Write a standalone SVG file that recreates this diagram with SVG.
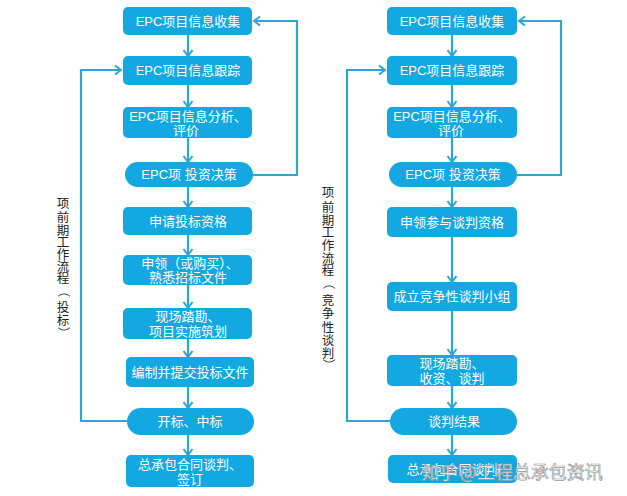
<svg xmlns="http://www.w3.org/2000/svg" width="627" height="496" viewBox="0 0 627 496">
<defs>
<marker id="arr" markerUnits="userSpaceOnUse" markerWidth="12" markerHeight="12" refX="9" refY="6" orient="auto">
<path d="M3,1.5 L9,6 L3,10.5" fill="none" stroke="#2BA6D6" stroke-width="2"/>
</marker>
<style>
.b{fill:#14A8E2;}
.t{fill:#fff;font-family:"Liberation Sans","Noto Sans CJK SC",sans-serif;font-size:13px;text-anchor:middle;}
.c{fill:none;stroke:#2BA6D6;stroke-width:2.2;marker-end:url(#arr);}
.v{fill:#222;font-family:"Noto Sans CJK SC",sans-serif;font-size:12.5px;text-anchor:middle;}
</style>
</defs>
<rect width="627" height="496" fill="#fff"/>
<g id="connectors">
<path class="c" d="M188,35 V56"/>
<path class="c" d="M188,85 V107"/>
<path class="c" d="M188,138 V162"/>
<path class="c" d="M188,187 V207"/>
<path class="c" d="M188,235 V255"/>
<path class="c" d="M188,285 V308"/>
<path class="c" d="M188,339 V357"/>
<path class="c" d="M188,387 V408"/>
<path class="c" d="M188,435 V455"/>
<path class="c" d="M127,421 H81 V70 H121"/>
<path class="c" d="M253,175 H297 V21 H254"/>
<path class="c" d="M452,35 V56"/>
<path class="c" d="M452,85 V107"/>
<path class="c" d="M452,138 V162"/>
<path class="c" d="M452,187 V207"/>
<path class="c" d="M452,237 V282"/>
<path class="c" d="M452,311 V355"/>
<path class="c" d="M452,386 V408"/>
<path class="c" d="M452,435 V455"/>
<path class="c" d="M390,421 H347 V70 H385"/>
<path class="c" d="M517,175 H561 V21 H519"/>
</g>
<g id="L1"><rect class="b" x="123" y="7" width="129" height="28" rx="5"/><text class="t" x="188" y="26">EPC项目信息收集</text></g>
<g id="L2"><rect class="b" x="123" y="56" width="129" height="29" rx="5"/><text class="t" x="188" y="75">EPC项目信息跟踪</text></g>
<g id="L3"><rect class="b" x="123" y="107" width="129" height="31" rx="5"/><text class="t" x="188" y="121">EPC项目信息分析、</text><text class="t" x="186" y="135">评价</text></g>
<g id="L4"><rect class="b" x="125" y="162" width="128" height="25" rx="12.5"/><text class="t" x="189" y="179">EPC项 投资决策</text></g>
<g id="L5"><rect class="b" x="123" y="207" width="129" height="28" rx="5"/><text class="t" x="188" y="226">申请投标资格</text></g>
<g id="L6"><rect class="b" x="123" y="255" width="129" height="30" rx="5"/><text class="t" x="190" y="268">申领（或购买）、</text><text class="t" x="188" y="282">熟悉招标文件</text></g>
<g id="L7"><rect class="b" x="123" y="308" width="129" height="31" rx="5"/><text class="t" x="188" y="321">现场踏勘、</text><text class="t" x="188" y="336">项目实施筑划</text></g>
<g id="L8"><rect class="b" x="126" y="357" width="128" height="30" rx="5"/><text class="t" x="190" y="377">编制并提交投标文件</text></g>
<g id="L9"><rect class="b" x="127" y="408" width="127" height="27" rx="13.5"/><text class="t" x="190" y="426">开标、中标</text></g>
<g id="L10"><rect class="b" x="126" y="455" width="128" height="32" rx="5"/><text class="t" x="190" y="469">总承包合同谈判、</text><text class="t" x="190" y="484">签订</text></g>
<g id="R1"><rect class="b" x="387" y="7" width="130" height="28" rx="5"/><text class="t" x="452" y="26">EPC项目信息收集</text></g>
<g id="R2"><rect class="b" x="387" y="56" width="130" height="29" rx="5"/><text class="t" x="452" y="75">EPC项目信息跟踪</text></g>
<g id="R3"><rect class="b" x="387" y="107" width="130" height="31" rx="5"/><text class="t" x="452" y="121">EPC项目信息分析、</text><text class="t" x="451" y="135">评价</text></g>
<g id="R4"><rect class="b" x="389" y="162" width="128" height="25" rx="12.5"/><text class="t" x="453" y="179">EPC项 投资决策</text></g>
<g id="R5"><rect class="b" x="387" y="207" width="130" height="30" rx="5"/><text class="t" x="452" y="227">申领参与谈判资格</text></g>
<g id="R6"><rect class="b" x="387" y="282" width="130" height="29" rx="5"/><text class="t" x="452" y="301">成立竞争性谈判小组</text></g>
<g id="R7"><rect class="b" x="387" y="355" width="130" height="31" rx="5"/><text class="t" x="452" y="368">现场踏勘、</text><text class="t" x="452" y="383">收资、谈判</text></g>
<g id="R8"><rect class="b" x="390" y="408" width="127" height="27" rx="13.5"/><text class="t" x="454" y="426">谈判结果</text></g>
<g id="R9"><rect class="b" x="388" y="455" width="129" height="28" rx="5"/><text class="t" x="452" y="474">总承包合同谈判</text></g>
<g id="label-left">
<text class="v" x="63" y="207.5">项</text>
<text class="v" x="63" y="221.5">前</text>
<text class="v" x="63" y="234.5">期</text>
<text class="v" x="63" y="246.5">工</text>
<text class="v" x="63" y="258.5">作</text>
<text class="v" x="63" y="270.5">流</text>
<text class="v" x="63" y="282.5">程</text>
<text class="v" x="63" y="295.5" transform="rotate(90 63 291)">（</text>
<text class="v" x="63" y="311.5">投</text>
<text class="v" x="63" y="324.5">标</text>
<text class="v" x="63" y="337.5" transform="rotate(90 63 333)">）</text>
</g>
<g id="label-right">
<text class="v" x="328" y="196.5">项</text>
<text class="v" x="328" y="211.5">前</text>
<text class="v" x="328" y="224.5">期</text>
<text class="v" x="328" y="236.5">工</text>
<text class="v" x="328" y="249.5">作</text>
<text class="v" x="328" y="262.5">流</text>
<text class="v" x="328" y="274.5">程</text>
<text class="v" x="328" y="287.5" transform="rotate(90 328 283)">（</text>
<text class="v" x="328" y="304.5">竞</text>
<text class="v" x="328" y="317.5">争</text>
<text class="v" x="328" y="331.5">性</text>
<text class="v" x="328" y="344.5">谈</text>
<text class="v" x="328" y="357.5">判</text>
<text class="v" x="328" y="369.5" transform="rotate(90 328 365)">）</text>
</g>
<g id="watermark">
<text x="422" y="479" font-family="Noto Sans CJK SC,sans-serif" font-size="17" fill="#fff" stroke="#999" stroke-width="0.7">知乎 <tspan font-size="18">@工程总承包资讯</tspan></text>
</g>
</svg>
